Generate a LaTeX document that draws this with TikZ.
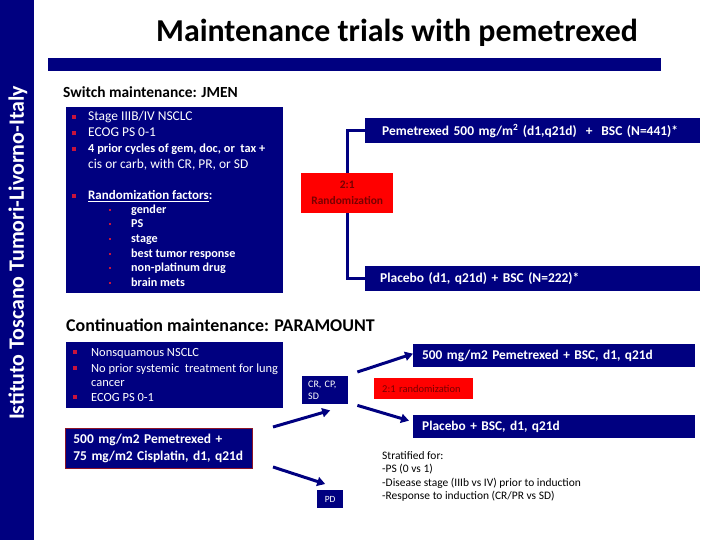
\documentclass[tikz,border=0pt]{standalone}
\usepackage{fontspec}
\setmainfont{Carlito}
\usetikzlibrary{arrows.meta,calc}
\definecolor{navy}{RGB}{0,0,128}
\definecolor{bulletred}{RGB}{200,20,60}
\definecolor{darkred}{RGB}{120,0,0}
\definecolor{framered}{RGB}{140,20,40}
\begin{document}
\begin{tikzpicture}[x=1bp,y=-1bp,
  navybox/.style={fill=navy,inner sep=0pt,anchor=north west},
  redbox/.style={fill=red,inner sep=0pt,anchor=north west},
  wtxt/.style={text=white,inner sep=0pt,anchor=base west},
  btxt/.style={text=black,inner sep=0pt,anchor=base west},
  bul/.style={fill=bulletred,minimum size=3.5bp,inner sep=0pt},
  sbul/.style={fill=bulletred,minimum size=2.5bp,inner sep=0pt},
  conn/.style={draw=navy,line width=3bp},
  arr/.style={draw=navy,line width=3bp,-{Triangle[length=8bp,width=9bp]}}
]
\useasboundingbox (0,0) rectangle (720,540);
% left vertical band
\node[navybox,minimum width=34bp,minimum height=540bp] (band) at (0,0) {};
\node[text=white,rotate=90,font=\bfseries\fontsize{22}{24}\selectfont,inner sep=0pt] (inst) at (18,253) {Istituto Toscano Tumori-Livorno-Italy};
% title
\node[font=\bfseries\fontsize{32}{36}\selectfont,inner sep=0pt] (title) at (397,33) {Maintenance trials with pemetrexed};
\node[navybox,minimum width=613bp,minimum height=13bp] (hbar) at (48,58) {};
% ---------- JMEN ----------
\node[btxt,font=\bfseries\fontsize{15.5}{18}\selectfont] (jmen) at (63,98) {Switch maintenance: JMEN};
\node[navybox,minimum width=217bp,minimum height=186bp] (box1) at (66,107) {};
\begin{scope}[font=\fontsize{13.5}{15}\selectfont]
\node[bul] (b1) at (74,117) {};
\node[wtxt] (l1) at (88,121) {Stage IIIB/IV NSCLC};
\node[bul] (b2) at (74,133) {};
\node[wtxt] (l2) at (88,137) {ECOG PS 0-1};
\node[bul] (b3) at (74,149) {};
\node[wtxt,font=\bfseries\fontsize{12.4}{14}\selectfont] (l3) at (88,153) {4 prior cycles of gem, doc, or \ tax +};
\node[wtxt] (l4) at (88,169) {cis or carb, with CR, PR, or SD};
\node[bul] (b5) at (74,196) {};
\node[wtxt,font=\bfseries\fontsize{13}{14}\selectfont] (l5) at (88,200) {\underline{Randomization factors}:};
\foreach \yy/\itemtext [count=\i] in {210/gender,224/PS,239/stage,254/best tumor response,268/non-platinum drug,283/brain mets}{
  \node[sbul] (sb\i) at (110,\yy) {};
  \node[wtxt,font=\bfseries\fontsize{12.2}{14}\selectfont] (s\i) at (131,\yy+4) {\itemtext};
}
\end{scope}
\node[navybox,minimum width=335bp,minimum height=25bp,text=white,font=\bfseries\fontsize{13.5}{15}\selectfont,inner xsep=17bp,text width=301bp,align=left] (pem) at (365,118) {Pemetrexed 500 mg/m\textsuperscript{2} (d1,q21d) \ + \ BSC (N=441)*};
\node[navybox,minimum width=335bp,minimum height=25bp,text=white,font=\bfseries\fontsize{13.5}{15}\selectfont,inner xsep=15bp,text width=305bp,align=left] (plc) at (365,266) {Placebo (d1, q21d) + BSC (N=222)*};
\node[redbox,minimum width=92bp,minimum height=40bp,text=darkred,font=\bfseries\fontsize{11.5}{16}\selectfont,align=center] (rand) at (301,173) {2:1\\Randomization};
\draw[conn] (rand.north) |- (pem.west);
\draw[conn] (rand.south) |- (plc.west);
% ---------- PARAMOUNT ----------
\node[btxt,font=\bfseries\fontsize{18}{20}\selectfont] (para) at (66,331) {Continuation maintenance: PARAMOUNT};
\node[navybox,minimum width=217bp,minimum height=66bp] (box2) at (66,342) {};
\begin{scope}[font=\fontsize{12.5}{14}\selectfont]
\node[bul] (c1) at (75,352) {};
\node[wtxt] (m1) at (91,356) {Nonsquamous NSCLC};
\node[bul] (c2) at (75,368) {};
\node[wtxt] (m2) at (91,372) {No prior systemic \ treatment for lung};
\node[wtxt] (m3) at (91,386) {cancer};
\node[bul] (c4) at (75,397) {};
\node[wtxt] (m4) at (91,401) {ECOG PS 0-1};
\end{scope}
\node[navybox,draw=framered,line width=0.8bp,minimum width=187bp,minimum height=40bp,text=white,font=\bfseries\fontsize{13.5}{16.5}\selectfont,inner xsep=8bp,text width=171bp,align=left] (ind) at (65,428) {500 mg/m2 Pemetrexed +\\75 mg/m2 Cisplatin, d1, q21d};
\node[navybox,minimum width=46bp,minimum height=28bp,text=white,font=\fontsize{10}{12}\selectfont,inner xsep=6bp,text width=34bp,align=left] (cr) at (302,376) {CR, CP,\\SD};
\node[navybox,minimum width=26bp,minimum height=18bp,text=white,font=\fontsize{9.5}{11}\selectfont] (pd) at (317,490) {PD};
\node[navybox,minimum width=282bp,minimum height=23bp,text=white,font=\bfseries\fontsize{13.4}{15}\selectfont,inner xsep=9bp,text width=264bp,align=left] (pem2) at (413,344) {500 mg/m2 Pemetrexed + BSC, d1, q21d};
\node[navybox,minimum width=282bp,minimum height=23bp,text=white,font=\bfseries\fontsize{13.4}{15}\selectfont,inner xsep=9bp,text width=264bp,align=left] (plc2) at (413,415) {Placebo + BSC, d1, q21d};
\node[redbox,minimum width=99bp,minimum height=21bp,text=darkred,font=\fontsize{10.5}{12}\selectfont,inner xsep=8bp,text width=83bp,align=left] (rand2) at (374,378) {2:1 randomization};
\coordinate (s1) at (273,427);
\coordinate (s2) at (273,467);
\draw[arr] (s1) -- ($(cr.south)+(5,6)$);
\draw[arr] (s2) -- ($(pd.north)+(-5,-6)$);
\draw[arr] ($(cr.north east)+(9,-4)$) -- ($(pem2.west)+(0,-2)$);
\draw[arr] ($(cr.south east)+(9,1)$) -- ($(plc2.west)+(-4,-6)$);
\begin{scope}[font=\fontsize{11.5}{13}\selectfont]
\node[btxt] (st1) at (382,459) {Stratified for:};
\node[btxt] (st2) at (382,472) {-PS (0 vs 1)};
\node[btxt] (st3) at (382,486) {-Disease stage (IIIb vs IV) prior to induction};
\node[btxt] (st4) at (382,499) {-Response to induction (CR/PR vs SD)};
\end{scope}
\end{tikzpicture}
\end{document}
